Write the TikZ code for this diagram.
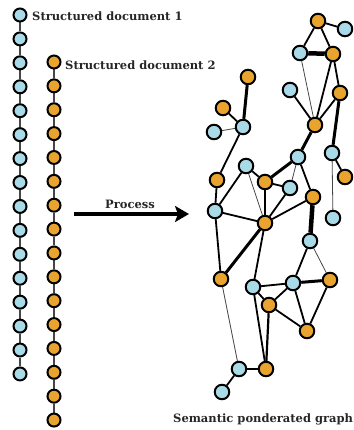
\documentclass[tikz,border=0pt]{standalone}
\usepackage{fontspec}
\setmainfont{DejaVu Serif}
\usetikzlibrary{arrows.meta}
\pgfdeclarelayer{bg}
\pgfsetlayers{bg,main}
\definecolor{nblue}{RGB}{168,218,232}
\definecolor{norange}{RGB}{232,164,46}
\definecolor{edgegray}{RGB}{70,70,70}
\tikzset{
  cb/.style={circle,draw=black,line width=2pt,fill=nblue,minimum size=13pt,inner sep=0pt},
  co/.style={circle,draw=black,line width=2pt,fill=norange,minimum size=13pt,inner sep=0pt},
  gb/.style={circle,draw=black,line width=2pt,fill=nblue,minimum size=14.5pt,inner sep=0pt},
  go/.style={circle,draw=black,line width=2pt,fill=norange,minimum size=14.5pt,inner sep=0pt},
  chainln/.style={draw=edgegray,line width=1.3pt},
  ethin/.style={draw=edgegray,line width=0.8pt},
  enorm/.style={draw=black,line width=1.8pt},
  ethick/.style={draw=black,line width=3pt},
  evthick/.style={draw=black,line width=4.5pt},
  lbl/.style={font=\bfseries\fontsize{11.5}{13}\selectfont,inner sep=0pt,anchor=base west,text=black!85}
}
\begin{document}
\begin{tikzpicture}[x=1pt,y=-1pt]
\useasboundingbox (0,0) rectangle (353,430);
\clip (0,0) rectangle (353,430);
% left chains
\foreach \i in {0,...,15}{
  \node[cb] (B\i) at (20,{15+23.93*\i}) {};
  \node[co] (O\i) at (54,{62+23.87*\i}) {};
}
\begin{pgfonlayer}{bg}
\foreach \i [count=\j from 1] in {0,...,14}{
  \draw[chainln] (B\i) -- (B\j);
  \draw[chainln] (O\i) -- (O\j);
}
\end{pgfonlayer}
\node[lbl] (t1) at (32,21) {Structured document 1};
\node[lbl] (t2) at (65,70) {Structured document 2};
% arrow
\coordinate (as) at (74,214);
\coordinate (ae) at (189,214);
\draw[line width=4pt,-{Stealth[length=14pt,width=16pt,inset=3pt]}] (as) -- (ae);
\node[lbl] (tp) at (105,208) {Process};
% graph nodes
\node[go] (o1) at (318,21) {};
\node[gb] (b1) at (345,29) {};
\node[gb] (b2) at (300,53) {};
\node[go] (o2) at (333,54) {};
\node[go] (o3) at (248,77) {};
\node[gb] (b3) at (290,90) {};
\node[go] (o4) at (340,93) {};
\node[go] (o5) at (223,108) {};
\node[go] (o6) at (315,125) {};
\node[gb] (b4) at (243,127) {};
\node[gb] (b5) at (214,132) {};
\node[gb] (b6) at (332,153) {};
\node[gb] (b7) at (298,157) {};
\node[gb] (b8) at (246,166) {};
\node[go] (o7) at (345,177) {};
\node[go] (o8) at (217,180) {};
\node[go] (o9) at (265,182) {};
\node[gb] (b9) at (290,188) {};
\node[go] (o10) at (313,197) {};
\node[gb] (b10) at (215,211) {};
\node[gb] (b11) at (333,218) {};
\node[go] (o11) at (265,223) {};
\node[gb] (b12) at (310,241) {};
\node[go] (o12) at (221,279) {};
\node[go] (o13) at (330,280) {};
\node[gb] (b13) at (253,287) {};
\node[gb] (b14) at (293,283) {};
\node[go] (o14) at (269,305) {};
\node[go] (o15) at (307,331) {};
\node[gb] (b15) at (239,369) {};
\node[go] (o16) at (266,369) {};
\node[gb] (b16) at (222,392) {};
\begin{pgfonlayer}{bg}
\draw[enorm] (o1) -- (b1);
\draw[enorm] (o1) -- (b2);
\draw[enorm] (o1) -- (o2);
\draw[evthick] (b2) -- (o2);
\draw[ethin] (b2) -- (o6);
\draw[enorm] (o2) -- (o6);
\draw[enorm] (o2) -- (o4);
\draw[enorm] (b3) -- (o6);
\draw[enorm] (o4) -- (o6);
\draw[ethick] (o4) -- (b6);
\draw[ethick] (o6) -- (b7);
\draw[enorm] (o5) -- (b4);
\draw[ethin] (b5) -- (b4);
\draw[ethick] (o3) -- (b4);
\draw[enorm] (b4) -- (o8);
\draw[ethick] (b7) -- (o9);
\draw[ethin] (b7) -- (b9);
\draw[enorm] (b7) -- (o10);
\draw[enorm] (o9) -- (b9);
\draw[enorm] (b8) -- (o9);
\draw[ethin] (b8) -- (o11);
\draw[enorm] (b8) -- (b10);
\draw[enorm] (o9) -- (o11);
\draw[enorm] (b10) -- (o11);
\draw[enorm] (b10) -- (o8);
\draw[enorm] (o11) -- (b9);
\draw[enorm] (o11) -- (o10);
\draw[evthick] (o10) -- (b12);
\draw[enorm] (b6) -- (o7);
\draw[ethin] (b6) -- (b11);
\draw[enorm] (b10) -- (o12);
\draw[ethick] (o11) -- (o12);
\draw[enorm] (o11) -- (b13);
\draw[enorm] (b12) -- (b14);
\draw[ethin] (b12) -- (o13);
\draw[ethick] (b14) -- (o13);
\draw[enorm] (b13) -- (b14);
\draw[enorm] (b13) -- (o14);
\draw[enorm] (b13) -- (o16);
\draw[enorm] (b14) -- (o14);
\draw[enorm] (b14) -- (o15);
\draw[enorm] (o13) -- (o15);
\draw[enorm] (o14) -- (o15);
\draw[line width=2.2pt] (o14) -- (o16);
\draw[ethin] (o12) -- (b15);
\draw[enorm] (b15) -- (o16);
\draw[enorm] (b15) -- (b16);
\end{pgfonlayer}
\node[lbl] (tg) at (173,422) {Semantic ponderated graph};
\end{tikzpicture}
\end{document}
